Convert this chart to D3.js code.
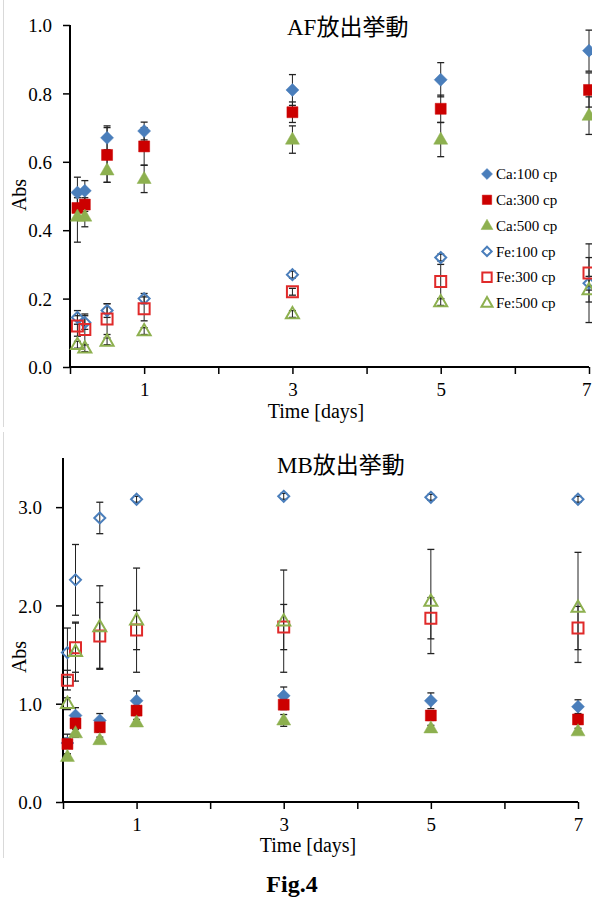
<!DOCTYPE html>
<html><head><meta charset="utf-8">
<script src="https://cdn.jsdelivr.net/npm/d3@7"></script>
<style>
html,body{margin:0;padding:0;background:#fff;}
svg{display:block;}
text{font-family:"Liberation Serif","Times New Roman","Noto Sans CJK JP",serif;fill:#000;}
</style></head>
<body>
<svg id="c" width="592" height="901"></svg>
<script>
// ---------- data ----------
const seriesNames = ["Ca:100 cp","Ca:300 cp","Ca:500 cp","Fe:100 cp","Fe:300 cp","Fe:500 cp"];
const xTickLabels = [1,3,5,7];

// AF release
const afTime     = [0.1, 0.2, 0.5, 1, 3, 5, 7];
const afCa100    = [0.51, 0.515, 0.67, 0.69, 0.81, 0.84, 0.925];
const afCa100Err = [0.045, 0.03, 0.035, 0.026, 0.045, 0.05, 0.06];
const afCa300    = [0.465, 0.475, 0.62, 0.645, 0.745, 0.755, 0.81];
const afCa300Err = [0.03, 0.02, 0.08, 0.055, 0.03, 0.04, 0.05];
const afCa500    = [0.44, 0.44, 0.575, 0.55, 0.665, 0.665, 0.735];
const afCa500Err = [0.075, 0.03, 0.035, 0.04, 0.04, 0.05, 0.055];
const afFe100    = [0.145, 0.13, 0.165, 0.2, 0.27, 0.32, 0.245];
const afFe100Err = [0.02, 0.02, 0.02, 0.015, 0.01, 0.01, 0.02];
const afFe300    = [0.12, 0.11, 0.14, 0.17, 0.22, 0.25, 0.275];
const afFe300Err = [0.03, 0.045, 0.045, 0.035, 0.01, 0.05, 0.085];
const afFe500    = [0.065, 0.055, 0.075, 0.105, 0.155, 0.19, 0.225];
const afFe500Err = [0.01, 0.01, 0.01, 0.01, 0.01, 0.01, 0.095];
const afYTicks   = [0.0, 0.2, 0.4, 0.6, 0.8, 1.0];

// MB release
const mbTime     = [0.06, 0.17, 0.5, 1, 3, 5, 7];
const mbCa100    = [0.6, 0.88, 0.83, 1.03, 1.08, 1.03, 0.97];
const mbCa100Err = [0.05, 0.08, 0.07, 0.1, 0.09, 0.08, 0.07];
const mbCa300    = [0.59, 0.8, 0.76, 0.93, 0.99, 0.88, 0.84];
const mbCa300Err = [0.1, 0.05, 0.05, 0.05, 0.05, 0.05, 0.05];
const mbCa500    = [0.46, 0.7, 0.63, 0.81, 0.83, 0.75, 0.72];
const mbCa500Err = [0.03, 0.04, 0.03, 0.03, 0.06, 0.03, 0.03];
const mbFe100    = [1.52, 2.26, 2.89, 3.08, 3.11, 3.10, 3.08];
const mbFe100Err = [0.25, 0.36, 0.16, 0.03, 0.03, 0.03, 0.03];
const mbFe300    = [1.24, 1.57, 1.69, 1.75, 1.78, 1.87, 1.77];
const mbFe300Err = [0.1, 0.25, 0.34, 0.2, 0.23, 0.21, 0.22];
const mbFe500    = [1.0, 1.53, 1.78, 1.85, 1.84, 2.04, 1.98];
const mbFe500Err = [0.06, 0.3, 0.42, 0.53, 0.52, 0.53, 0.56];
const mbYTicks   = [0.0, 1.0, 2.0, 3.0];

// ---------- styles ----------
const BLUE = "#4A7EBB", RED = "#CC0000", RED2 = "#E02A2A", GREEN = "#8DB04F";
const styles = [
  {shape:"diamond", color:BLUE,  filled:true,  r:6.5},
  {shape:"square",  color:RED,   filled:true,  r:5.5},
  {shape:"triangle",color:GREEN, filled:true,  r:7},
  {shape:"diamond", color:BLUE,  filled:false, r:5.5},
  {shape:"square",  color:RED2,  filled:false, r:5.5},
  {shape:"triangle",color:GREEN, filled:false, r:6.5}
];
function shapePath(shape, r){
  if(shape==="diamond") return `M0,${-r}L${r},0L0,${r}L${-r},0Z`;
  if(shape==="square") return `M${-r},${-r}H${r}V${r}H${-r}Z`;
  const h = r*1.732;
  return `M0,${-h*0.62}L${r},${h*0.38}L${-r},${h*0.38}Z`;
}

const svg = d3.select("#c");

function panel(cfg){
  const g = svg.append("g");
  // light panel border
  g.append("line").attr("x1",3.5).attr("x2",3.5).attr("y1",cfg.border[0]).attr("y2",cfg.border[1])
    .attr("stroke","#d9d9d9").attr("stroke-width",1);

  const x = d3.scaleLinear().domain([0,7]).range(cfg.xr);
  const y = d3.scaleLinear().domain(cfg.yd).range(cfg.yr);

  // y axis
  const ya = d3.axisLeft(y).tickValues(cfg.yTicks).tickFormat(d3.format(".1f")).tickSize(7).tickPadding(cfg.ypad);
  const yg = g.append("g").attr("transform",`translate(${cfg.xr[0]},0)`).call(ya);
  yg.select(".domain").attr("d",`M0,${cfg.yr[0]}V${cfg.yr[1]}`).attr("stroke","#000").attr("stroke-width",2);
  yg.selectAll(".tick line").attr("stroke","#000").attr("stroke-width",1.5);
  yg.selectAll(".tick text").attr("font-size",19).attr("font-family",null).attr("dy","0.35em");

  // x axis
  const xa = d3.axisBottom(x).tickValues(d3.range(0,8)).tickSize(7).tickPadding(9)
    .tickFormat(d => xTickLabels.includes(d) ? d : "");
  const xg = g.append("g").attr("transform",`translate(0,${cfg.yr[0]})`).call(xa);
  xg.select(".domain").attr("d",`M${cfg.xr[0]},0H${cfg.xr[1]}`).attr("stroke","#000").attr("stroke-width",2);
  xg.selectAll(".tick line").attr("stroke","#000").attr("stroke-width",1.5);
  xg.selectAll(".tick text").attr("font-size",19).attr("font-family",null);
  // keep the last label inside the page edge
  xg.selectAll(".tick text").filter(d => d===7 && x(7)+6 > 592)
    .attr("text-anchor","end").attr("x", 591 - x(7));

  // error bars
  cfg.series.forEach((s,i)=>{
    const eg = g.append("g");
    s.v.forEach((v,k)=>{
      const e = s.e[k], cx = x(cfg.t[k]);
      const y1 = y(v+e), y2 = y(v-e);
      eg.append("line").attr("x1",cx).attr("x2",cx).attr("y1",y1).attr("y2",y2).attr("stroke","#222").attr("stroke-width",1);
      [y1,y2].forEach(yy=>eg.append("line").attr("x1",cx-3.5).attr("x2",cx+3.5).attr("y1",yy).attr("y2",yy).attr("stroke","#222").attr("stroke-width",1.3));
    });
  });
  // markers
  cfg.series.forEach((s,i)=>{
    const st = styles[i];
    g.append("g").selectAll("path").data(s.v).join("path")
      .attr("transform",(v,k)=>`translate(${x(cfg.t[k])},${y(v)})`)
      .attr("d",shapePath(st.shape,st.r))
      .attr("fill",st.filled?st.color:"none")
      .attr("stroke",st.color).attr("stroke-width",st.filled?0.5:2);
  });

  // title
  g.append("text").attr("x",cfg.title[1]).attr("y",cfg.title[2]).attr("font-size",23).text(cfg.title[0]);
  // axis labels
  g.append("text").attr("transform",`translate(${cfg.abs[0]},${cfg.abs[1]}) rotate(-90)`)
    .attr("text-anchor","middle").attr("font-size",20).text("Abs");
  g.append("text").attr("x",cfg.time[0]).attr("y",cfg.time[1]).attr("text-anchor","middle")
    .attr("font-size",20).text("Time [days]");
  return g;
}

panel({
  border:[0,427], xr:[70,589], yd:[0,1], yr:[367,25], yTicks:afYTicks, ypad:11, t:afTime,
  series:[{v:afCa100,e:afCa100Err},{v:afCa300,e:afCa300Err},{v:afCa500,e:afCa500Err},
          {v:afFe100,e:afFe100Err},{v:afFe300,e:afFe300Err},{v:afFe500,e:afFe500Err}],
  title:["AF放出挙動",287,35], abs:[26,195], time:[316,418]
});
panel({
  border:[432,858], xr:[63,578], yd:[0,3.5], yr:[802,458], yTicks:mbYTicks, ypad:14, t:mbTime,
  series:[{v:mbCa100,e:mbCa100Err},{v:mbCa300,e:mbCa300Err},{v:mbCa500,e:mbCa500Err},
          {v:mbFe100,e:mbFe100Err},{v:mbFe300,e:mbFe300Err},{v:mbFe500,e:mbFe500Err}],
  title:["MB放出挙動",277,473], abs:[26,657], time:[308,852]
});

// legend (top panel)
const lg = svg.append("g");
seriesNames.forEach((name,i)=>{
  const st = styles[i], yy = 174 + i*25.8;
  lg.append("path").attr("transform",`translate(487,${yy})`)
    .attr("d",shapePath(st.shape, st.r*0.85))
    .attr("fill",st.filled?st.color:"none").attr("stroke",st.color).attr("stroke-width",st.filled?0.5:2);
  lg.append("text").attr("x",496).attr("y",yy).attr("dy","0.35em").attr("font-size",15).text(name);
});

// figure caption
svg.append("text").attr("x",292).attr("y",892).attr("text-anchor","middle")
  .attr("font-size",24).attr("font-weight","bold").text("Fig.4");
</script>
</body></html>
